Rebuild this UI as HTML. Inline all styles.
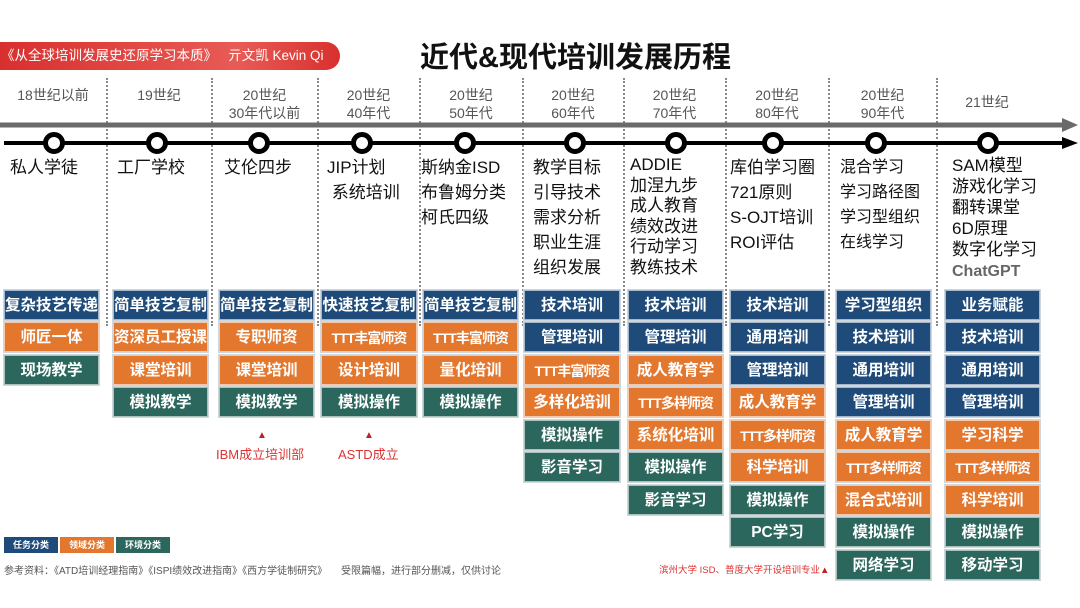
<!DOCTYPE html>
<html><head><meta charset="utf-8"><style>
*{margin:0;padding:0;box-sizing:border-box}
body{width:1080px;height:608px;background:#fff;position:relative;overflow:hidden;font-family:"Liberation Sans","Noto Sans CJK SC",sans-serif}
.a{position:absolute;white-space:nowrap}
.b{position:absolute;height:30px;color:#fff;font-weight:bold;font-size:15.5px;line-height:30px;text-align:center;border:1px solid rgba(255,255,255,.6);box-shadow:0 0 0 1px #cfd6dc;white-space:nowrap;overflow:hidden}
.B{background:#1f4b7a}.O{background:#e3772e}.G{background:#2c675d}
.t{font-size:14px;letter-spacing:-1px}
.dv{position:absolute;top:78px;height:248px;border-left:2px dotted #888;width:0}
.p{position:absolute;color:#555;font-size:14px;line-height:18px;text-align:center}
.m{position:absolute;color:#111;font-size:17px;line-height:25px}
.c{position:absolute;top:132px;width:22px;height:22px;border-radius:50%;border:5px solid #000;background:#fff}
</style></head><body>
<div class="a" style="left:0;top:42px;width:340px;height:28px;background:linear-gradient(90deg,#d8302e,#e85b55 70%,#d8302e);border-radius:0 14px 14px 0;color:#fff;font-size:13.5px;line-height:28px;padding-left:1px">《从全球培训发展史还原学习本质》&nbsp;&nbsp;&nbsp;亓文凯 Kevin Qi</div>
<div class="a" style="left:420px;top:34px;font-size:29px;font-weight:bold;color:#111">近代&amp;现代培训发展历程</div>

<div class="dv" style="left:106px"></div><div class="dv" style="left:211px"></div><div class="dv" style="left:317px"></div><div class="dv" style="left:419px"></div><div class="dv" style="left:522px"></div><div class="dv" style="left:623px"></div><div class="dv" style="left:725px"></div><div class="dv" style="left:828px"></div><div class="dv" style="left:936px"></div>

<div class="p" style="left:0;width:106px;top:86px">18世纪以前</div>
<div class="p" style="left:107px;width:104px;top:86px">19世纪</div>
<div class="p" style="left:212px;width:105px;top:86px">20世纪<br>30年代以前</div>
<div class="p" style="left:318px;width:101px;top:86px">20世纪<br>40年代</div>
<div class="p" style="left:420px;width:102px;top:86px">20世纪<br>50年代</div>
<div class="p" style="left:523px;width:100px;top:86px">20世纪<br>60年代</div>
<div class="p" style="left:624px;width:101px;top:86px">20世纪<br>70年代</div>
<div class="p" style="left:726px;width:102px;top:86px">20世纪<br>80年代</div>
<div class="p" style="left:829px;width:107px;top:86px">20世纪<br>90年代</div>
<div class="p" style="left:937px;width:100px;top:93px">21世纪</div>

<svg class="a" style="left:0;top:115px" width="1080" height="40">
<line x1="0" y1="10" x2="1066" y2="10" stroke="#6a6a6a" stroke-width="5"/>
<polygon points="1062,3 1078,10 1062,17" fill="#6a6a6a"/>
<line x1="4" y1="28" x2="1066" y2="28" stroke="#000" stroke-width="4"/>
<polygon points="1062,22 1078,28 1062,34" fill="#000"/>
</svg>
<div class="c" style="left:43px"></div><div class="c" style="left:146px"></div><div class="c" style="left:248px"></div><div class="c" style="left:351px"></div><div class="c" style="left:454px"></div><div class="c" style="left:564px"></div><div class="c" style="left:665px"></div><div class="c" style="left:762px"></div><div class="c" style="left:865px"></div><div class="c" style="left:977px"></div>

<div class="m" style="left:10px;top:155px">私人学徒</div>
<div class="m" style="left:117px;top:155px">工厂学校</div>
<div class="m" style="left:224px;top:155px">艾伦四步</div>
<div class="m" style="left:327px;top:155px">JIP计划<br>&nbsp;系统培训</div>
<div class="m" style="left:421px;top:155px">斯纳金ISD<br>布鲁姆分类<br>柯氏四级</div>
<div class="m" style="left:533px;top:155px">教学目标<br>引导技术<br>需求分析<br>职业生涯<br>组织发展</div>
<div class="m" style="left:630px;top:155px;line-height:20.5px">ADDIE<br>加涅九步<br>成人教育<br>绩效改进<br>行动学习<br>教练技术</div>
<div class="m" style="left:730px;top:155px;line-height:25px">库伯学习圈<br>721原则<br>S-OJT培训<br>ROI评估</div>
<div class="m" style="left:840px;top:155px;font-size:16px;line-height:25px">混合学习<br>学习路径图<br>学习型组织<br>在线学习</div>
<div class="m" style="left:952px;top:155px;line-height:21px">SAM模型<br>游戏化学习<br>翻转课堂<br>6D原理<br>数字化学习<br><b style="color:#666;font-size:16px">ChatGPT</b></div>

<div class="b B" style="left:4px;top:290px;width:95px">复杂技艺传递</div>
<div class="b O" style="left:4px;top:322px;width:95px">师匠一体</div>
<div class="b G" style="left:4px;top:355px;width:95px">现场教学</div>

<div class="b B" style="left:113px;top:290px;width:95px">简单技艺复制</div>
<div class="b O" style="left:113px;top:322px;width:95px">资深员工授课</div>
<div class="b O" style="left:113px;top:355px;width:95px">课堂培训</div>
<div class="b G" style="left:113px;top:387px;width:95px">模拟教学</div>

<div class="b B" style="left:219px;top:290px;width:95px">简单技艺复制</div>
<div class="b O" style="left:219px;top:322px;width:95px">专职师资</div>
<div class="b O" style="left:219px;top:355px;width:95px">课堂培训</div>
<div class="b G" style="left:219px;top:387px;width:95px">模拟教学</div>

<div class="b B" style="left:321px;top:290px;width:96px">快速技艺复制</div>
<div class="b O t" style="left:321px;top:322px;width:96px">TTT丰富师资</div>
<div class="b O" style="left:321px;top:355px;width:96px">设计培训</div>
<div class="b G" style="left:321px;top:387px;width:96px">模拟操作</div>

<div class="b B" style="left:423px;top:290px;width:95px">简单技艺复制</div>
<div class="b O t" style="left:423px;top:322px;width:95px">TTT丰富师资</div>
<div class="b O" style="left:423px;top:355px;width:95px">量化培训</div>
<div class="b G" style="left:423px;top:387px;width:95px">模拟操作</div>

<div class="b B" style="left:524px;top:290px;width:96px">技术培训</div>
<div class="b B" style="left:524px;top:322px;width:96px">管理培训</div>
<div class="b O t" style="left:524px;top:355px;width:96px">TTT丰富师资</div>
<div class="b O" style="left:524px;top:387px;width:96px">多样化培训</div>
<div class="b G" style="left:524px;top:420px;width:96px">模拟操作</div>
<div class="b G" style="left:524px;top:452px;width:96px">影音学习</div>

<div class="b B" style="left:628px;top:290px;width:95px">技术培训</div>
<div class="b B" style="left:628px;top:322px;width:95px">管理培训</div>
<div class="b O" style="left:628px;top:355px;width:95px">成人教育学</div>
<div class="b O t" style="left:628px;top:387px;width:95px">TTT多样师资</div>
<div class="b O" style="left:628px;top:420px;width:95px">系统化培训</div>
<div class="b G" style="left:628px;top:452px;width:95px">模拟操作</div>
<div class="b G" style="left:628px;top:485px;width:95px">影音学习</div>

<div class="b B" style="left:730px;top:290px;width:95px">技术培训</div>
<div class="b B" style="left:730px;top:322px;width:95px">通用培训</div>
<div class="b B" style="left:730px;top:355px;width:95px">管理培训</div>
<div class="b O" style="left:730px;top:387px;width:95px">成人教育学</div>
<div class="b O t" style="left:730px;top:420px;width:95px">TTT多样师资</div>
<div class="b O" style="left:730px;top:452px;width:95px">科学培训</div>
<div class="b G" style="left:730px;top:485px;width:95px">模拟操作</div>
<div class="b G" style="left:730px;top:517px;width:95px">PC学习</div>

<div class="b B" style="left:836px;top:290px;width:95px">学习型组织</div>
<div class="b B" style="left:836px;top:322px;width:95px">技术培训</div>
<div class="b B" style="left:836px;top:355px;width:95px">通用培训</div>
<div class="b B" style="left:836px;top:387px;width:95px">管理培训</div>
<div class="b O" style="left:836px;top:420px;width:95px">成人教育学</div>
<div class="b O t" style="left:836px;top:452px;width:95px">TTT多样师资</div>
<div class="b O" style="left:836px;top:485px;width:95px">混合式培训</div>
<div class="b G" style="left:836px;top:517px;width:95px">模拟操作</div>
<div class="b G" style="left:836px;top:550px;width:95px">网络学习</div>

<div class="b B" style="left:945px;top:290px;width:95px">业务赋能</div>
<div class="b B" style="left:945px;top:322px;width:95px">技术培训</div>
<div class="b B" style="left:945px;top:355px;width:95px">通用培训</div>
<div class="b B" style="left:945px;top:387px;width:95px">管理培训</div>
<div class="b O" style="left:945px;top:420px;width:95px">学习科学</div>
<div class="b O t" style="left:945px;top:452px;width:95px">TTT多样师资</div>
<div class="b O" style="left:945px;top:485px;width:95px">科学培训</div>
<div class="b G" style="left:945px;top:517px;width:95px">模拟操作</div>
<div class="b G" style="left:945px;top:550px;width:95px">移动学习</div>

<div class="a" style="left:257px;top:430px;color:#b22;font-size:10px">▲</div>
<div class="a" style="left:216px;top:444px;color:#d33;font-size:13px">IBM成立培训部</div>
<div class="a" style="left:364px;top:430px;color:#b22;font-size:10px">▲</div>
<div class="a" style="left:338px;top:444px;color:#d33;font-size:13px">ASTD成立</div>

<div class="a" style="left:4px;top:537px;width:54px;height:16px;background:#1f4b7a;color:#fff;font-size:9px;font-weight:bold;line-height:16px;text-align:center">任务分类</div>
<div class="a" style="left:60px;top:537px;width:54px;height:16px;background:#e3772e;color:#fff;font-size:9px;font-weight:bold;line-height:16px;text-align:center">领域分类</div>
<div class="a" style="left:116px;top:537px;width:54px;height:16px;background:#2c675d;color:#fff;font-size:9px;font-weight:bold;line-height:16px;text-align:center">环境分类</div>
<div class="a" style="left:4px;top:562px;color:#555;font-size:10px">参考资料：《ATD培训经理指南》《ISPI绩效改进指南》《西方学徒制研究》&nbsp;&nbsp;&nbsp;&nbsp;&nbsp;受限篇幅，进行部分删减，仅供讨论</div>
<div class="a" style="left:659px;top:562px;color:#d33;font-size:9.5px">滨州大学 ISD、普度大学开设培训专业<span style="color:#b22">▲</span></div>
</body></html>
